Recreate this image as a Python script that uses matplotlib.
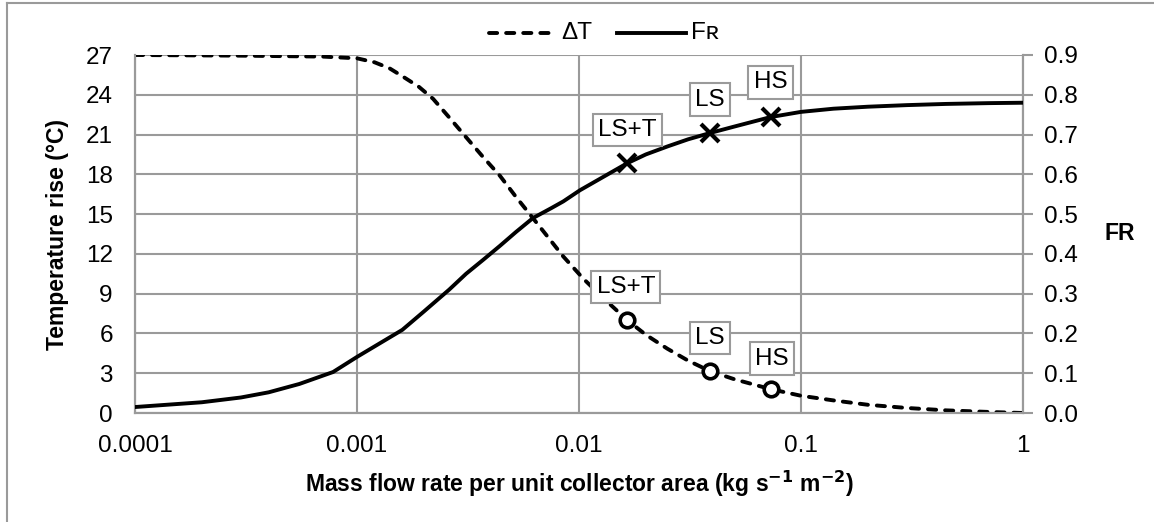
import matplotlib
matplotlib.use("Agg")
import matplotlib.pyplot as plt
from matplotlib.lines import Line2D

plt.rcParams["font.family"] = ["Liberation Sans", "DejaVu Sans"]

# temperature rise curve
dt_flow = [0.0001, 0.0003, 0.0007, 0.001, 0.0012, 0.0014, 0.0016, 0.0019, 0.0022,
           0.0026, 0.0031, 0.0037, 0.0044, 0.0052, 0.0062, 0.0073, 0.0085, 0.0105,
           0.013, 0.0165, 0.02, 0.025, 0.031, 0.039, 0.05, 0.073, 0.1, 0.14, 0.2,
           0.3, 0.45, 0.7, 1.0]
dt_vals = [27.0, 26.95, 26.88, 26.75, 26.45, 26.0, 25.4, 24.6, 23.7,
           22.3, 20.8, 19.3, 17.9, 16.3, 14.7, 13.2, 11.8, 10.1,
           8.6, 7.0, 5.9, 4.85, 3.95, 3.15, 2.55, 1.8, 1.3, 0.95, 0.62,
           0.38, 0.2, 0.08, 0.0]

# collector heat removal factor curve
fr_flow = [0.0001, 0.0002, 0.0003, 0.0004, 0.00055, 0.00078, 0.001, 0.0016,
           0.002, 0.0026, 0.0031, 0.0037, 0.0044, 0.0052, 0.0062, 0.0075, 0.0085,
           0.0101, 0.013, 0.0165, 0.02, 0.025, 0.031, 0.039, 0.05, 0.073, 0.1,
           0.14, 0.2, 0.3, 0.45, 0.7, 1.0]
fr_vals = [0.015, 0.027, 0.039, 0.052, 0.073, 0.103, 0.141, 0.209,
           0.255, 0.31, 0.35, 0.385, 0.42, 0.455, 0.49, 0.515, 0.532,
           0.56, 0.595, 0.628, 0.65, 0.67, 0.688, 0.704, 0.72, 0.744, 0.757,
           0.765, 0.77, 0.774, 0.777, 0.779, 0.78]

# operating points
op_names = ["LS+T", "LS", "HS"]
op_flow = [0.0165, 0.039, 0.073]
op_dt = [7.0, 3.15, 1.8]
op_fr = [0.628, 0.704, 0.744]

grid_c = "#9a9a9a"
lw = 2.8
dash = (0, (2.1, 2.3))

fig = plt.figure(figsize=(11.54, 5.22), dpi=100)
ax = fig.add_axes([135 / 1154, 1 - 413 / 522, 888 / 1154, 358 / 522])
ax2 = ax.twinx()

ax.set_xscale("log")
ax.set_xlim(1e-4, 1)
ax.set_ylim(0, 27)
ax2.set_ylim(0, 0.9)

ax.plot(dt_flow, dt_vals, color="black", lw=lw, ls=dash, dash_capstyle="round",
        zorder=3)
ax.plot(op_flow, op_dt, ls="none", marker="o", ms=10.5, mfc="white", mec="black",
        mew=2.6, zorder=4)
ax2.plot(fr_flow, fr_vals, color="black", lw=lw, zorder=3)
ax2.plot(op_flow, op_fr, ls="none", marker="x", ms=13, mec="black", mew=3, zorder=4)

box = dict(boxstyle="square,pad=0.22", fc="white", ec=grid_c, lw=1.5)
dt_offsets = [(-1, 24), (0, 24), (1, 22)]
fr_offsets = [(0, 24), (0, 24), (0, 25)]
for name, x, y, off in zip(op_names, op_flow, op_dt, dt_offsets):
    ax.annotate(name, (x, y), xytext=off, textcoords="offset points", ha="center",
                va="center", fontsize=17.5, bbox=box, zorder=5)
for name, x, y, off in zip(op_names, op_flow, op_fr, fr_offsets):
    ax2.annotate(name, (x, y), xytext=off, textcoords="offset points", ha="center",
                 va="center", fontsize=17.5, bbox=box, zorder=5)

ax.set_yticks(range(0, 28, 3))
ax2.set_yticks([i / 10 for i in range(10)])
ax2.set_yticklabels([f"{i / 10:.1f}" for i in range(10)])
ax.set_xticks([1e-4, 1e-3, 1e-2, 1e-1, 1])
ax.set_xticklabels(["0.0001", "0.001", "0.01", "0.1", "1"])
ax.minorticks_off()

ax.grid(True, color=grid_c, lw=1.5)
for a in (ax, ax2):
    for s in a.spines.values():
        s.set_color(grid_c)
        s.set_linewidth(1.5)
    a.spines["top"].set_visible(False)
ax.tick_params(axis="y", length=0, labelsize=17.5, pad=16)
ax.tick_params(axis="x", length=0, labelsize=17.5, pad=16)
ax2.tick_params(axis="y", length=7, width=1.5, color=grid_c, labelsize=17.5, pad=8)

ax.set_ylabel("Temperature rise (°C)", fontsize=16.5, fontweight="bold", labelpad=12)
ax2.set_ylabel("FR", fontsize=16.5, fontweight="bold", rotation=0, labelpad=30,
               va="center")
ax.set_xlabel(r"Mass flow rate per unit collector area (kg s$^\mathbf{-1}$ m$^\mathbf{-2}$)",
              fontsize=16.5, fontweight="bold", labelpad=8)

# legend drawn by hand above the plot
W, H = 1154, 522
ly = 1 - 33 / H
fig.add_artist(Line2D([489 / W, 555 / W], [ly, ly], color="black", lw=lw, ls=dash,
                      dash_capstyle="round"))
fig.text(561 / W, ly, "ΔT", fontsize=17.5, va="center", ha="left")
fig.add_artist(Line2D([617 / W, 686 / W], [ly, ly], color="black", lw=lw))
fig.text(691 / W, ly, "Fʀ", fontsize=17.5, va="center", ha="left")

# outer chart-area border (left and top edges visible)
fig.add_artist(Line2D([7 / W, 7 / W], [0, 1 - 3 / H], color=grid_c, lw=1.5))
fig.add_artist(Line2D([7 / W, 1], [1 - 3 / H, 1 - 3 / H], color=grid_c, lw=1.5))

fig.savefig("out.png", dpi=100, facecolor="white")
